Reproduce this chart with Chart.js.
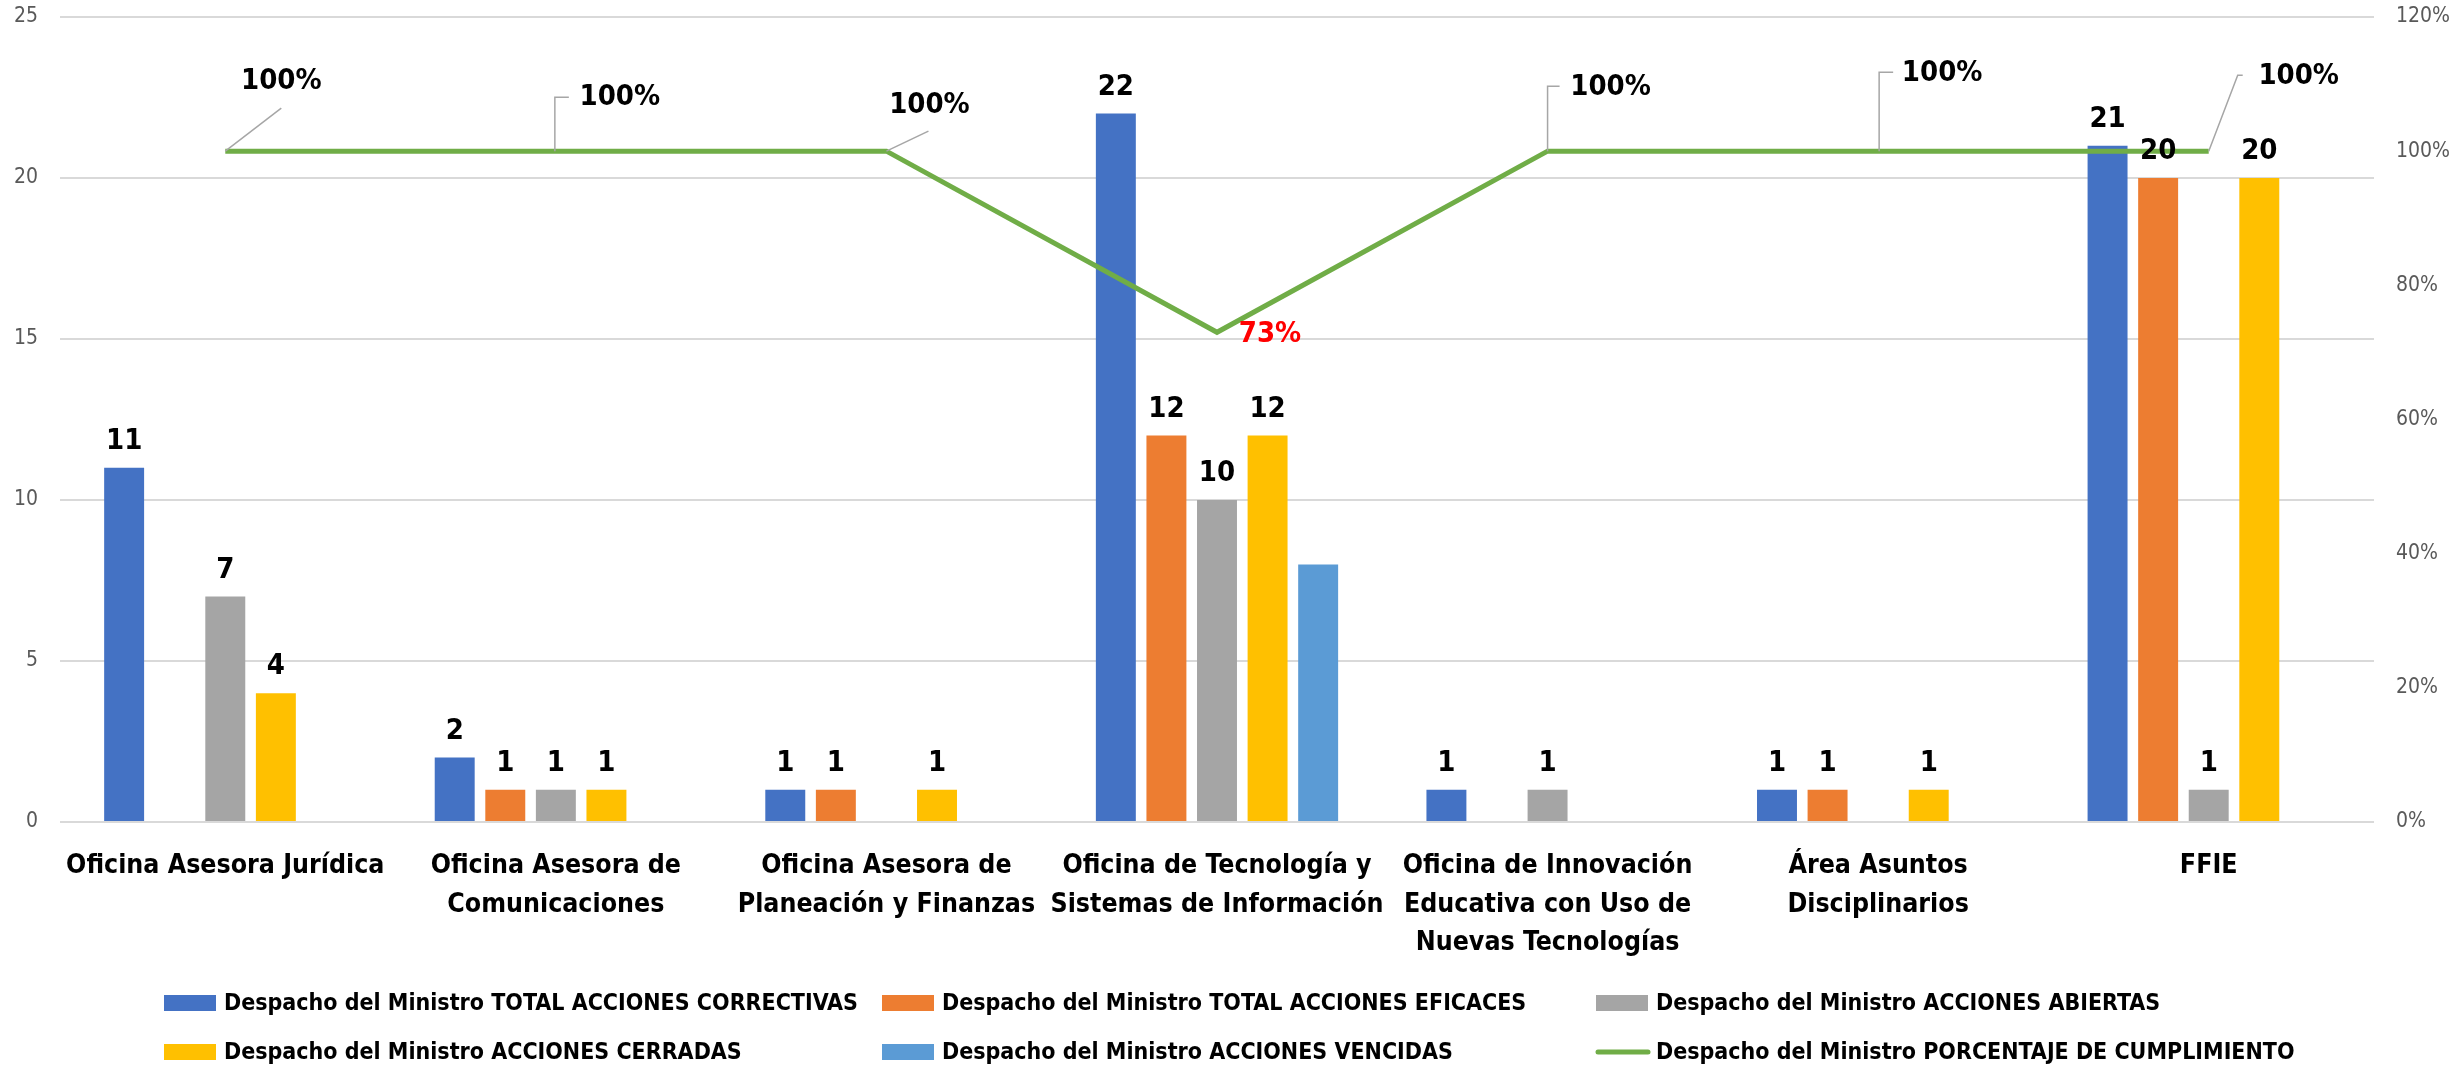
<!DOCTYPE html>
<html>
<head>
<meta charset="utf-8">
<script src="https://cdn.jsdelivr.net/npm/chart.js@4.4.1/dist/chart.umd.min.js"></script>
<style>
  html, body { margin: 0; padding: 0; background: #fff; }
  #wrap { width: 2455px; height: 1065px; }
</style>
</head>
<body>
<div id="wrap"><canvas id="chart" width="2455" height="1065"></canvas></div>
<script>
// chart data
var categories = [
    'Oficina Asesora Jurídica',
    ['Oficina Asesora de', 'Comunicaciones'],
    ['Oficina Asesora de', 'Planeación y Finanzas'],
    ['Oficina de Tecnología y', 'Sistemas de Información'],
    ['Oficina de Innovación', 'Educativa con Uso de', 'Nuevas Tecnologías'],
    ['Área Asuntos', 'Disciplinarios'],
    'FFIE'
];
var correctivas = [11, 2, 1, 22, 1, 1, 21];
var eficaces = [null, 1, 1, 12, null, 1, 20];
var abiertas = [7, 1, null, 10, 1, null, 1];
var cerradas = [4, 1, 1, 12, null, 1, 20];
var vencidas = [null, null, null, 8, null, null, null];
var cumplimiento = [1, 1, 1, 0.73, 1, 1, 1];
var leftTicks = [0, 5, 10, 15, 20, 25];
var rightTicks = [0, 0.2, 0.4, 0.6, 0.8, 1, 1.2];

var FONT = "'DejaVu Sans Condensed', 'DejaVu Sans', sans-serif";

// where each percentage label sits relative to its point, and its leader line
var pctLabelPos = [
    { dx: 56, dy: -70, leader: [[0, 0], [56, -43]] },
    { dx: 64, dy: -54, leader: [[-1, 0], [-1, -54], [13, -54]] },
    { dx: 43, dy: -46, leader: [[0, 0], [42, -20]] },
    { dx: 53, dy: 2, leader: null },
    { dx: 63, dy: -64, leader: [[0, 0], [0, -65], [12, -65]] },
    { dx: 64, dy: -78, leader: [[1, 0], [1, -79], [15, -79]] },
    { dx: 90, dy: -75, leader: [[0, 0], [29, -76], [34, -76]] }
];

function pct(v) {
    return Math.round(v * 100) + '%';
}

var valueLabels = {
    id: 'valueLabels',
    afterDatasetsDraw: function(chart) {
        var ctx = chart.ctx;
        ctx.save();
        ctx.font = 'bold 29px ' + FONT;
        ctx.textAlign = 'center';

        chart.data.datasets.forEach(function(ds, i) {
            var meta = chart.getDatasetMeta(i);
            if (ds.type === 'line') {
                meta.data.forEach(function(pt, j) {
                    var p = pctLabelPos[j];
                    if (p.leader) {
                        ctx.strokeStyle = '#A6A6A6';
                        ctx.lineWidth = 1.5;
                        ctx.beginPath();
                        p.leader.forEach(function(q, k) {
                            if (k === 0) ctx.moveTo(pt.x + q[0], pt.y + q[1]);
                            else ctx.lineTo(pt.x + q[0], pt.y + q[1]);
                        });
                        ctx.stroke();
                    }
                    var v = ds.data[j];
                    ctx.fillStyle = v < 1 ? '#FF0000' : '#000000';
                    ctx.textBaseline = 'middle';
                    ctx.fillText(pct(v), pt.x + p.dx, pt.y + p.dy);
                });
                return;
            }
            if (!ds.showValues) return;
            ctx.fillStyle = '#000000';
            ctx.textBaseline = 'alphabetic';
            meta.data.forEach(function(bar, j) {
                var v = ds.data[j];
                if (v === null || v === undefined) return;
                ctx.fillText(String(v), bar.x, bar.y - 19);
            });
        });
        ctx.restore();
    }
};

// legend drawn as a 3 column grid like the original
var gridLegend = {
    id: 'gridLegend',
    afterDraw: function(chart) {
        var ctx = chart.ctx;
        var colX = [164, 882, 1596];
        var rowY = [1003, 1052];
        ctx.save();
        ctx.font = 'bold 23px ' + FONT;
        ctx.textBaseline = 'middle';
        ctx.textAlign = 'left';
        chart.data.datasets.forEach(function(ds, i) {
            var x = colX[i % 3];
            var y = rowY[Math.floor(i / 3)];
            if (ds.type === 'line') {
                ctx.strokeStyle = ds.borderColor;
                ctx.lineWidth = 5;
                ctx.lineCap = 'round';
                ctx.beginPath();
                ctx.moveTo(x + 2, y);
                ctx.lineTo(x + 52, y);
                ctx.stroke();
            } else {
                ctx.fillStyle = ds.backgroundColor;
                ctx.fillRect(x, y - 8, 52, 16);
            }
            ctx.fillStyle = '#000000';
            ctx.fillText(ds.label, x + 60, y + 1);
        });
        ctx.restore();
    }
};

var barOpts = { barPercentage: 0.79, categoryPercentage: 0.765, order: 1, yAxisID: 'y' };

function barSet(label, data, color, showValues) {
    return Object.assign({
        type: 'bar',
        label: label,
        data: data,
        backgroundColor: color,
        showValues: showValues
    }, barOpts);
}

// fixed side width, no extra room above/below for the tick labels
function fixAxis(width) {
    return function(scale) {
        scale.width = width;
        scale.paddingTop = 0;
        scale.paddingBottom = 0;
    };
}

new Chart(document.getElementById('chart'), {
    data: {
        labels: categories,
        datasets: [
            barSet('Despacho del Ministro TOTAL ACCIONES CORRECTIVAS', correctivas, '#4472C4', true),
            barSet('Despacho del Ministro TOTAL ACCIONES EFICACES', eficaces, '#ED7D31', true),
            barSet('Despacho del Ministro ACCIONES ABIERTAS', abiertas, '#A5A5A5', true),
            barSet('Despacho del Ministro ACCIONES CERRADAS', cerradas, '#FFC000', true),
            barSet('Despacho del Ministro ACCIONES VENCIDAS', vencidas, '#5B9BD5', false),
            {
                type: 'line',
                label: 'Despacho del Ministro PORCENTAJE DE CUMPLIMIENTO',
                data: cumplimiento,
                borderColor: '#70AD47',
                backgroundColor: '#70AD47',
                borderWidth: 5,
                pointRadius: 0,
                tension: 0,
                order: 0,
                yAxisID: 'y1'
            }
        ]
    },
    options: {
        responsive: false,
        devicePixelRatio: 1,
        animation: false,
        layout: { autoPadding: false, padding: { top: 17, left: 0, right: 0, bottom: 0 } },
        plugins: {
            legend: { display: false },
            tooltip: { enabled: false }
        },
        scales: {
            x: {
                grid: { display: false, drawTicks: false },
                border: { display: false },
                ticks: {
                    color: '#000000',
                    font: { family: FONT, size: 26.5, weight: 'bold', lineHeight: 1.45 },
                    padding: 25,
                    maxRotation: 0,
                    autoSkip: false
                },
                afterFit: function(scale) { scale.height = 243; }
            },
            y: {
                position: 'left',
                min: 0,
                max: 25,
                afterBuildTicks: function(scale) {
                    scale.ticks = leftTicks.map(function(v) { return { value: v }; });
                },
                grid: { color: '#D9D9D9', lineWidth: 2, drawTicks: false },
                border: { display: false },
                ticks: {
                    color: '#595959',
                    font: { family: FONT, size: 21 },
                    padding: 22
                },
                afterFit: fixAxis(60)
            },
            y1: {
                position: 'right',
                min: 0,
                max: 1.2,
                afterBuildTicks: function(scale) {
                    scale.ticks = rightTicks.map(function(v) { return { value: v }; });
                },
                grid: { display: false, drawTicks: false },
                border: { display: false },
                ticks: {
                    color: '#595959',
                    font: { family: FONT, size: 21 },
                    padding: 22,
                    callback: function(v) { return pct(v); }
                },
                afterFit: fixAxis(81)
            }
        }
    },
    plugins: [valueLabels, gridLegend]
});
</script>
</body>
</html>
